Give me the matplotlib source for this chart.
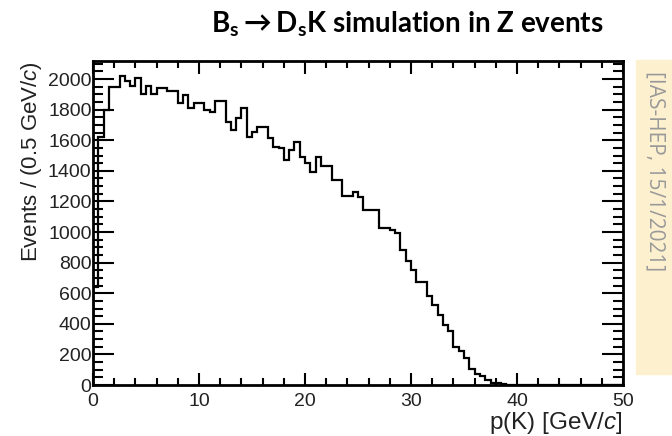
import numpy as np
import matplotlib.pyplot as plt
from matplotlib.ticker import MultipleLocator

# p(K) histogram, 0.5 GeV bins from 0 to 50 GeV
counts = [640, 1620, 1800, 1945, 1945, 2022, 1985, 1955, 2005, 1905,
          1955, 1905, 1940, 1940, 1920, 1920, 1841, 1895, 1808, 1841,
          1841, 1797, 1786, 1858, 1858, 1721, 1667, 1743, 1808, 1623,
          1656, 1688, 1688, 1612, 1558, 1547, 1471, 1536, 1591, 1493,
          1450, 1395, 1489, 1432, 1432, 1340, 1340, 1235, 1235, 1264,
          1231, 1144, 1144, 1144, 1025, 1025, 1010, 995, 880, 810,
          755, 675, 675, 580, 520, 458, 392, 350, 250, 220,
          175, 105, 70, 60, 35, 15, 10, 5, 2, 0]
counts = counts + [0] * (100 - len(counts))
edges = np.linspace(0, 50, 101)

title = r'$\mathbf{B_s \rightarrow D_sK}$ simulation in Z events'
note = '[IAS-HEP, 15/1/2021]'

plt.rcParams['mathtext.fontset'] = 'custom'
plt.rcParams['mathtext.it'] = 'Liberation Sans:italic'
plt.rcParams['mathtext.bf'] = 'Lato:bold'
plt.rcParams['mathtext.rm'] = 'Lato'

fig = plt.figure(figsize=(6.72, 4.36), dpi=100)
ax = fig.add_axes([93 / 672, 1 - 385 / 436, 530 / 672, 324 / 436])

ax.stairs(counts, edges, color='black', lw=1.6, baseline=0)

ax.set_xlim(0, 50)
ax.set_ylim(0, 2118)
ax.xaxis.set_major_locator(MultipleLocator(10))
ax.xaxis.set_minor_locator(MultipleLocator(2))
ax.yaxis.set_major_locator(MultipleLocator(200))
ax.yaxis.set_minor_locator(MultipleLocator(50))
ax.tick_params(which='both', direction='in', top=True, right=True,
               width=1.5, labelsize=14, pad=2)
ax.tick_params(axis='x', which='major', length=9, pad=6)
ax.tick_params(axis='x', which='minor', length=5)
ax.tick_params(axis='y', which='major', length=15, pad=1)
ax.tick_params(axis='y', which='minor', length=7)
for s in ax.spines.values():
    s.set_linewidth(2)
for lab in ax.get_xticklabels() + ax.get_yticklabels():
    lab.set_family('Liberation Sans')
    lab.set_color('#222222')

ax.set_ylabel(r'Events / (0.5 GeV/$c$)', family='Liberation Sans',
              fontsize=16, loc='top', labelpad=3, color='#222222')
ax.set_xlabel(r'p(K) [GeV/$c$]', family='Liberation Sans',
              fontsize=17.5, loc='right', labelpad=0, color='#222222')

fig.text(407 / 672, 1 - 24 / 436, title, ha='center', va='center',
         fontsize=20, weight='bold', family='Lato')

fig.patches.append(plt.Rectangle((636 / 672, 1 - 374 / 436), 40 / 672, 314 / 436,
                                 transform=fig.transFigure, color='#fdf0cf',
                                 zorder=0))
fig.text(655 / 672, 1 - 171 / 436, note, rotation=-90, ha='center',
         va='center', fontsize=15, color='#999999', family='Open Sans')

fig.savefig('out.png', dpi=100)
